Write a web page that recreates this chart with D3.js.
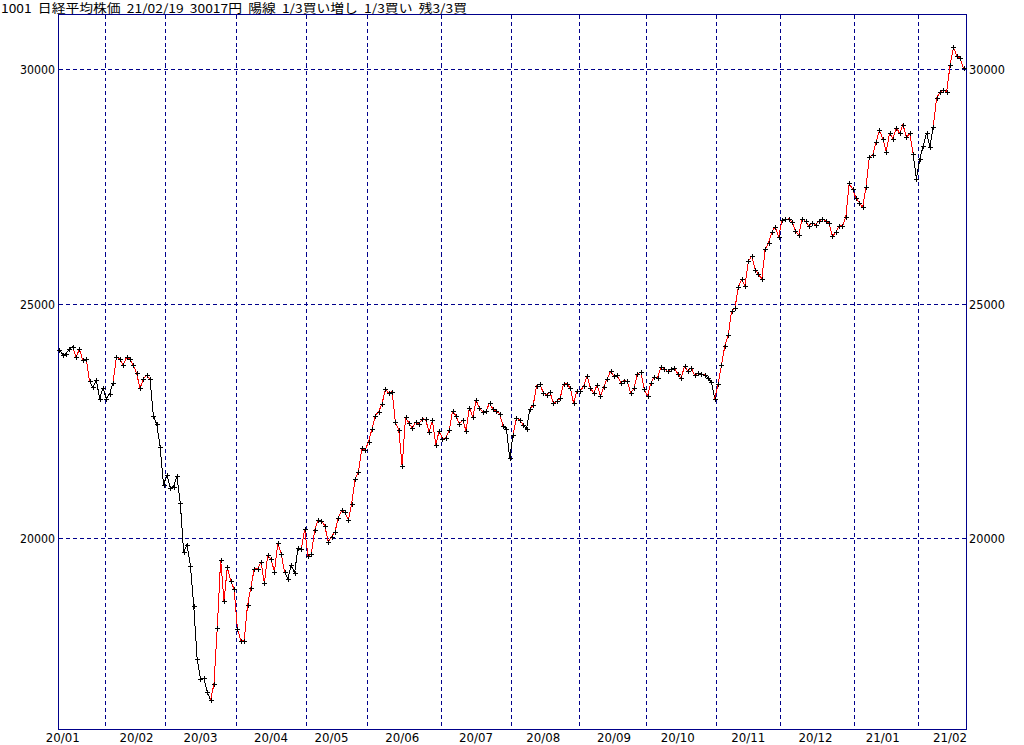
<!DOCTYPE html>
<html>
<head>
<meta charset="utf-8">
<script src="https://cdn.jsdelivr.net/npm/d3@7"></script>
<style>
html,body{margin:0;padding:0;background:#fff;}
svg{display:block;}
</style>
</head>
<body>
<svg id="chart" width="1024" height="745"></svg>
<script>
// ---- data ----
const titleParts = ["1001", "日経平均株価", "21/02/19", "30017円", "陽線", "1/3買い増し", "1/3買い", "残3/3買"];
const monthLabels = ["20/01","20/02","20/03","20/04","20/05","20/06","20/07","20/08","20/09","20/10","20/11","20/12","21/01","21/02"];
const monthDays = [
  [14,15,16,17,20,21,22,23,24,27,28,29,30,31],
  [3,4,5,6,7,10,12,13,14,17,18,19,20,21,25,26,27,28],
  [2,3,4,5,6,9,10,11,12,13,16,17,18,19,23,24,25,26,27,30,31],
  [1,2,3,6,7,8,9,10,13,14,15,16,17,20,21,22,23,24,27,28,30],
  [1,7,8,11,12,13,14,15,18,19,20,21,22,25,26,27,28,29],
  [1,2,3,4,5,8,9,10,11,12,15,16,17,18,19,22,23,24,25,26,29,30],
  [1,2,3,6,7,8,9,10,13,14,15,16,17,20,21,22,27,28,29,30,31],
  [3,4,5,6,7,11,12,13,14,17,18,19,20,21,24,25,26,27,28,31],
  [1,2,3,4,7,8,9,10,11,14,15,16,17,18,23,24,25,28,29,30],
  [2,5,6,7,8,9,12,13,14,15,16,19,20,21,22,23,26,27,28,29,30],
  [2,4,5,6,9,10,11,12,13,16,17,18,19,20,24,25,26,27,30],
  [1,2,3,4,7,8,9,10,11,14,15,16,17,18,21,22,23,24,25,28,29,30],
  [4,5,6,7,8,12,13,14,15,18,19,20,21,22,25,26,27,28,29],
  [1,2,3,4,5,8,9,10,12,15,16,17,18,19]
];
const closes = [
  // 2020/01
  24025.17,23916.58,23933.13,24041.26,24083.51,23864.56,24031.35,23795.44,23827.18,23343.51,23215.71,23379.40,22977.75,23205.18,
  // 2020/02
  22971.94,23084.59,23319.56,23873.59,23827.98,23685.98,23861.21,23827.73,23687.59,23523.24,23193.80,23400.70,23479.15,23386.74,22605.41,22426.19,21948.23,21142.96,
  // 2020/03
  21344.08,21082.73,21100.06,21329.12,20749.75,19698.76,19867.12,19416.06,18559.63,17431.05,17002.04,17011.53,16726.55,16552.83,16887.78,18092.35,19546.63,18664.60,19389.43,19084.97,18917.01,
  // 2020/04
  18065.41,17818.72,17820.19,18576.30,18950.18,19353.24,19345.77,19498.50,19043.40,19638.81,19550.09,19290.20,19897.26,19669.12,19280.78,19137.95,19429.44,19262.00,19783.22,19771.19,20193.69,
  // 2020/05
  19619.35,19674.77,20179.09,20390.66,20366.48,20267.05,19914.78,20037.47,20133.73,20433.45,20595.15,20552.31,20388.16,20741.65,21271.17,21419.23,21916.31,21877.89,
  // 2020/06
  22062.39,22325.61,22613.76,22695.74,22863.73,23178.10,23091.03,23124.95,22472.91,22305.48,21530.95,22582.21,22455.76,22355.46,22478.79,22437.27,22549.05,22534.32,22259.79,22512.08,21995.04,22288.14,
  // 2020/07
  22121.73,22145.96,22306.48,22714.44,22614.69,22438.65,22529.29,22290.81,22784.74,22587.01,22945.50,22770.36,22696.42,22717.48,22884.22,22751.61,22715.85,22657.38,22397.11,22339.23,21710.00,
  // 2020/08
  22195.38,22573.66,22514.85,22418.15,22329.94,22750.24,22843.96,23249.61,23289.36,23096.75,23051.08,23110.61,22880.62,22920.30,22985.51,23296.77,23290.86,23208.86,22882.65,23139.76,
  // 2020/09
  23138.07,23247.15,23465.53,23205.43,23089.95,23274.13,23032.54,23235.47,23406.49,23559.30,23454.89,23475.53,23319.37,23360.30,23346.49,23087.82,23204.62,23511.62,23539.10,23185.12,
  // 2020/10
  23029.90,23312.14,23433.73,23422.82,23647.07,23619.69,23558.69,23601.78,23626.73,23507.23,23410.63,23671.13,23567.04,23639.46,23474.27,23516.59,23494.34,23485.80,23418.51,23331.94,22977.13,
  // 2020/11
  23295.48,23695.23,24105.28,24325.23,24839.84,24905.59,25349.60,25520.88,25385.87,25906.93,26014.62,25728.14,25634.34,25527.37,26165.59,26296.86,26537.31,26644.71,26433.62,
  // 2020/12
  26787.54,26800.98,26809.37,26751.24,26547.44,26467.08,26817.94,26756.24,26652.52,26732.44,26687.84,26757.40,26806.67,26763.39,26714.42,26436.39,26524.79,26668.35,26656.61,26854.03,27568.15,27444.17,
  // 2021/01
  27258.38,27158.63,27055.94,27490.13,28139.03,28164.34,28456.59,28698.26,28519.18,28242.21,28633.46,28523.26,28756.86,28631.45,28822.29,28546.18,28635.21,28197.42,27663.39,
  // 2021/02
  28091.05,28362.17,28646.50,28341.95,28779.19,29388.50,29505.93,29562.93,29520.07,30084.15,30467.75,30292.19,30236.09,30017.92
];
// index ranges (segment end points) drawn in black; all other segments red
const blackRuns = [[1,4],[10,16],[28,45],[68,72],[133,135],[139,140],[193,195],[255,260]];
const yTicks = [20000, 25000, 30000];
const yDomain = [15923, 31168];

// ---- layout ----
const L = 58.5, R = 966.5, T = 14.5, B = 729.5;
const navy = "#00008b";
const svg = d3.select("#chart");
const n = closes.length;
const x = d3.scaleLinear().domain([0, n - 1]).range([59.3, 963.5]);
const y = d3.scaleLinear().domain(yDomain).range([B, T]);

// month start indices & label indices
const monthStart = [];
const labelIdx = [];
let acc = 0;
monthDays.forEach((days) => {
  monthStart.push(acc);
  let k = days.findIndex(d => d >= 15);
  if (k < 0) k = days.length - 1;
  labelIdx.push(acc + k);
  acc += days.length;
});

// title
svg.append("text")
  .attr("x", 1).attr("y", 13)
  .attr("font-family", "'Noto Sans CJK JP', sans-serif")
  .attr("font-size", 12)
  .attr("fill", "#000")
  .style("white-space", "pre")
  .attr("textLength", 466).attr("lengthAdjust", "spacingAndGlyphs")
  .text(titleParts.join("  "));

// grid: horizontal
const g = svg.append("g");
g.selectAll("line.hg").data(yTicks).enter().append("line")
  .attr("x1", L).attr("x2", R)
  .attr("y1", d => Math.round(y(d)) + 0.5).attr("y2", d => Math.round(y(d)) + 0.5)
  .attr("stroke", navy).attr("stroke-width", 1)
  .attr("stroke-dasharray", "4,3").attr("shape-rendering", "crispEdges");

// grid: vertical at month boundaries
g.selectAll("line.vg").data(monthStart.slice(1)).enter().append("line")
  .attr("x1", d => Math.round(x(d - 0.5)) + 0.5).attr("x2", d => Math.round(x(d - 0.5)) + 0.5)
  .attr("y1", T).attr("y2", B)
  .attr("stroke", navy).attr("stroke-width", 1)
  .attr("stroke-dasharray", "4,3").attr("shape-rendering", "crispEdges");

// frame
svg.append("rect")
  .attr("x", L).attr("y", T).attr("width", R - L).attr("height", B - T)
  .attr("fill", "none").attr("stroke", navy).attr("stroke-width", 1)
  .attr("shape-rendering", "crispEdges");

// y labels
const fontNum = "'DejaVu Sans', sans-serif";
g.selectAll("text.yl").data(yTicks).enter().append("text")
  .attr("x", 55).attr("y", d => y(d) + 5)
  .attr("text-anchor", "end")
  .attr("font-family", fontNum).attr("font-size", 13)
  .attr("textLength", 35).attr("lengthAdjust", "spacingAndGlyphs")
  .attr("fill", "#000")
  .text(d => d);
g.selectAll("text.yr").data(yTicks).enter().append("text")
  .attr("x", 969).attr("y", d => y(d) + 5)
  .attr("text-anchor", "start")
  .attr("font-family", fontNum).attr("font-size", 13)
  .attr("textLength", 36).attr("lengthAdjust", "spacingAndGlyphs")
  .attr("fill", "#000")
  .text(d => d);

// x labels
g.selectAll("text.xl").data(monthLabels).enter().append("text")
  .attr("x", (d, i) => x(labelIdx[i]))
  .attr("y", 742)
  .attr("text-anchor", "middle")
  .attr("font-family", fontNum).attr("font-size", 13)
  .attr("textLength", 34).attr("lengthAdjust", "spacingAndGlyphs")
  .attr("fill", "#000")
  .text(d => d);

// line segments
function isBlack(i) {
  return blackRuns.some(r => i >= r[0] && i <= r[1]);
}
const segIdx = d3.range(1, n);
svg.append("g").selectAll("line").data(segIdx).enter().append("line")
  .attr("x1", i => x(i - 1)).attr("y1", i => y(closes[i - 1]))
  .attr("x2", i => x(i)).attr("y2", i => y(closes[i]))
  .attr("stroke", i => isBlack(i) ? "#000" : "#ff0000")
  .attr("stroke-width", 1)
  .attr("shape-rendering", "crispEdges");

// markers "+"
svg.append("g").selectAll("path").data(closes).enter().append("path")
  .attr("d", (d, i) => {
    const px = Math.round(x(i)), py = Math.round(y(d));
    return `M${px - 2},${py + 0.5}h5M${px + 0.5},${py - 2}v5`;
  })
  .attr("stroke", "#000").attr("stroke-width", 1)
  .attr("fill", "none")
  .attr("shape-rendering", "crispEdges");
</script>
</body>
</html>
